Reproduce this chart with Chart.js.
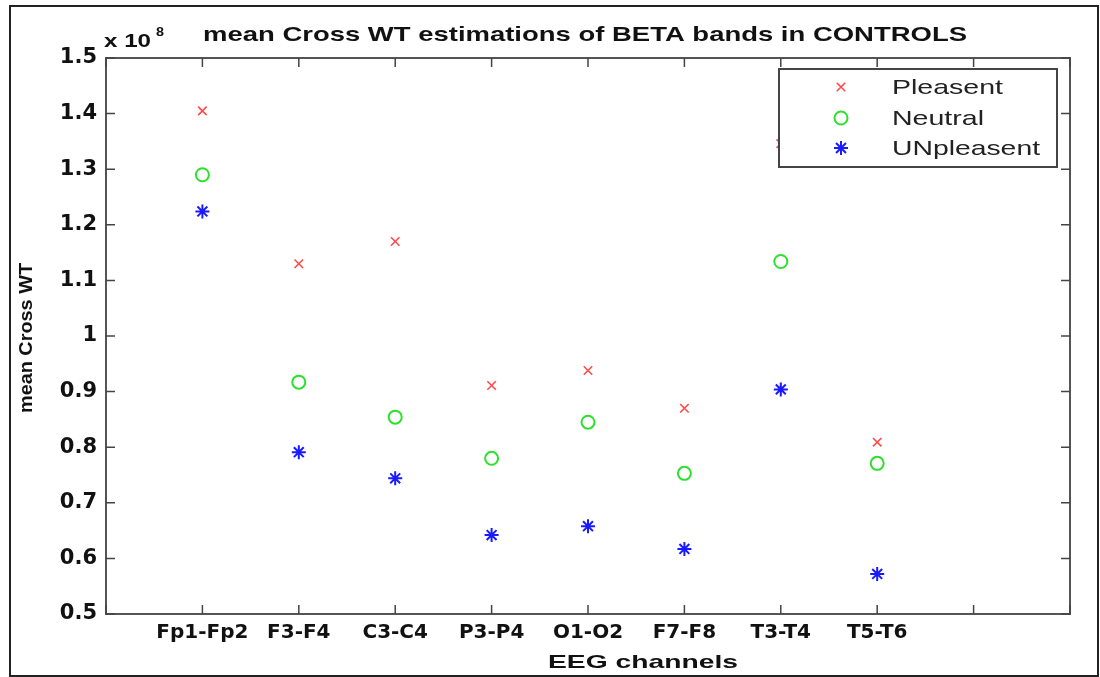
<!DOCTYPE html>
<html><head><meta charset="utf-8">
<script src="https://cdn.jsdelivr.net/npm/chart.js@4.4.0/dist/chart.umd.min.js"></script>
<style>html,body{margin:0;padding:0;background:#fff}#wrap{width:1100px;height:677px;position:relative}</style>
</head><body><div id="wrap"><canvas id="c" width="1100" height="677"></canvas></div>
<script>
const channels = ['Fp1-Fp2','F3-F4','C3-C4','P3-P4','O1-O2','F7-F8','T3-T4','T5-T6'];
const channelPos = [1,2,3,4,5,6,7,8];
const pleasent = [1.405,1.130,1.170,0.911,0.938,0.870,1.346,0.809];
const neutral = [1.290,0.917,0.854,0.780,0.845,0.753,1.134,0.771];
const unpleasent = [1.224,0.791,0.744,0.642,0.658,0.617,0.904,0.572];
const seriesNames = ['Pleasent','Neutral','UNpleasent'];
const titleText = 'mean Cross WT estimations of BETA bands in CONTROLS';
const xTitle = 'EEG channels';
const yTitle = 'mean Cross WT';

const toPts = arr => arr.map((v,i)=>({x:channelPos[i], y:v}));

function sText(ctx, txt, x, y, font, targetW, align, color){
  ctx.save();
  ctx.font = font;
  ctx.fillStyle = color || '#111';
  ctx.textBaseline = 'alphabetic';
  const w = ctx.measureText(txt).width;
  const s = targetW / w;
  ctx.translate(x, y);
  ctx.scale(s, 1);
  ctx.textAlign = align || 'left';
  ctx.fillText(txt, 0, 0);
  ctx.restore();
}

const deco = {
  id: 'deco',
  beforeDatasetsDraw(chart){
    const ctx = chart.ctx, a = chart.chartArea;
    const xs = chart.scales.x, ys = chart.scales.y;
    ctx.save();
    ctx.strokeStyle = '#222'; ctx.lineWidth = 2;
    ctx.strokeRect(10, 6, 1088, 670);
    ctx.strokeStyle = '#555'; ctx.lineWidth = 2;
    ctx.strokeRect(a.left, a.top, a.right - a.left, a.bottom - a.top);
    ctx.lineWidth = 1.5; ctx.strokeStyle = '#444';
    for (let v = 0; v <= 10; v++){
      const px = xs.getPixelForValue(v);
      ctx.beginPath();
      ctx.moveTo(px, a.bottom); ctx.lineTo(px, a.bottom - 9);
      ctx.moveTo(px, a.top); ctx.lineTo(px, a.top + 9);
      ctx.stroke();
    }
    ys.ticks.forEach(t => {
      const py = ys.getPixelForValue(t.value);
      ctx.beginPath();
      ctx.moveTo(a.left, py); ctx.lineTo(a.left + 9, py);
      ctx.moveTo(a.right, py); ctx.lineTo(a.right - 9, py);
      ctx.stroke();
    });
    ctx.restore();
    sText(ctx, titleText, 585, 41, 'bold 21px "Liberation Sans", Arial', 764, 'center');
    sText(ctx, 'x 10', 104, 47, 'bold 18px "Liberation Sans", Arial', 47, 'left');
    sText(ctx, '8', 156, 36, 'bold 13px "Liberation Sans", Arial', 8, 'left');
    sText(ctx, xTitle, 643, 668, 'bold 19px "Liberation Sans", Arial', 190, 'center');
    ctx.save();
    ctx.translate(32, 338);
    ctx.rotate(-Math.PI/2);
    sText(ctx, yTitle, 0, 0, 'bold 19px "Liberation Sans", Arial', 150, 'center');
    ctx.restore();
  },
  afterDraw(chart){
    const ctx = chart.ctx;
    ctx.save();
    ctx.fillStyle = '#fff';
    ctx.fillRect(779, 69, 278, 98);
    ctx.strokeStyle = '#444'; ctx.lineWidth = 2;
    ctx.strokeRect(779, 69, 278, 98);
    const rows = [87, 118, 148];
    const widths = [111, 92, 148];
    chart.data.datasets.forEach((ds, i) => {
      ctx.strokeStyle = ds.borderColor; ctx.lineWidth = ds.borderWidth;
      ctx.fillStyle = 'rgba(0,0,0,0)';
      Chart.helpers.drawPoint(ctx, {
        pointStyle: ds.pointStyle, radius: ds.pointRadius,
        borderWidth: ds.borderWidth, rotation: 0
      }, 841, rows[i]);
      sText(ctx, ds.label, 892, rows[i] + 7, '21px "Liberation Sans", Arial', widths[i], 'left', '#222');
    });
    ctx.restore();
  }
};

new Chart(document.getElementById('c'), {
  type: 'scatter',
  data: {
    datasets: [
      {label: seriesNames[0], data: toPts(pleasent), pointStyle: 'crossRot', pointRadius: 6,
       borderColor: '#ff4a4a', backgroundColor: 'rgba(0,0,0,0)', borderWidth: 1.6, showLine: false},
      {label: seriesNames[1], data: toPts(neutral), pointStyle: 'circle', pointRadius: 6.5,
       borderColor: '#2ee02e', backgroundColor: 'rgba(0,0,0,0)', borderWidth: 2, showLine: false},
      {label: seriesNames[2], data: toPts(unpleasent), pointStyle: 'star', pointRadius: 7,
       borderColor: '#1a1aff', backgroundColor: 'rgba(0,0,0,0)', borderWidth: 2, showLine: false}
    ]
  },
  options: {
    responsive: false, animation: false, devicePixelRatio: 1,
    layout: {padding: {left: 10, top: 58, right: 30, bottom: 0}},
    plugins: {legend: {display: false}, title: {display: false}, tooltip: {enabled: false}},
    scales: {
      x: {
        type: 'linear', min: 0, max: 10,
        afterFit: s => { s.height = 63; },
        grid: {display: false, drawTicks: false}, border: {display: false},
        ticks: {
          stepSize: 1, autoSkip: false, maxRotation: 0, padding: 7,
          color: '#111', font: {family: '"DejaVu Sans", "Liberation Sans"', weight: 'bold', size: 20},
          callback: v => { const i = channelPos.indexOf(v); return i >= 0 ? channels[i] : ''; }
        }
      },
      y: {
        type: 'linear', min: 0.5, max: 1.5,
        afterFit: s => { s.width = 96; },
        grid: {display: false, drawTicks: false}, border: {display: false},
        ticks: {
          stepSize: 0.1, padding: 9,
          color: '#111', font: {family: '"DejaVu Sans", "Liberation Sans"', weight: 'bold', size: 21},
          callback: v => String(Number(v.toFixed(1)))
        }
      }
    }
  },
  plugins: [deco]
});
</script>
</body></html>
